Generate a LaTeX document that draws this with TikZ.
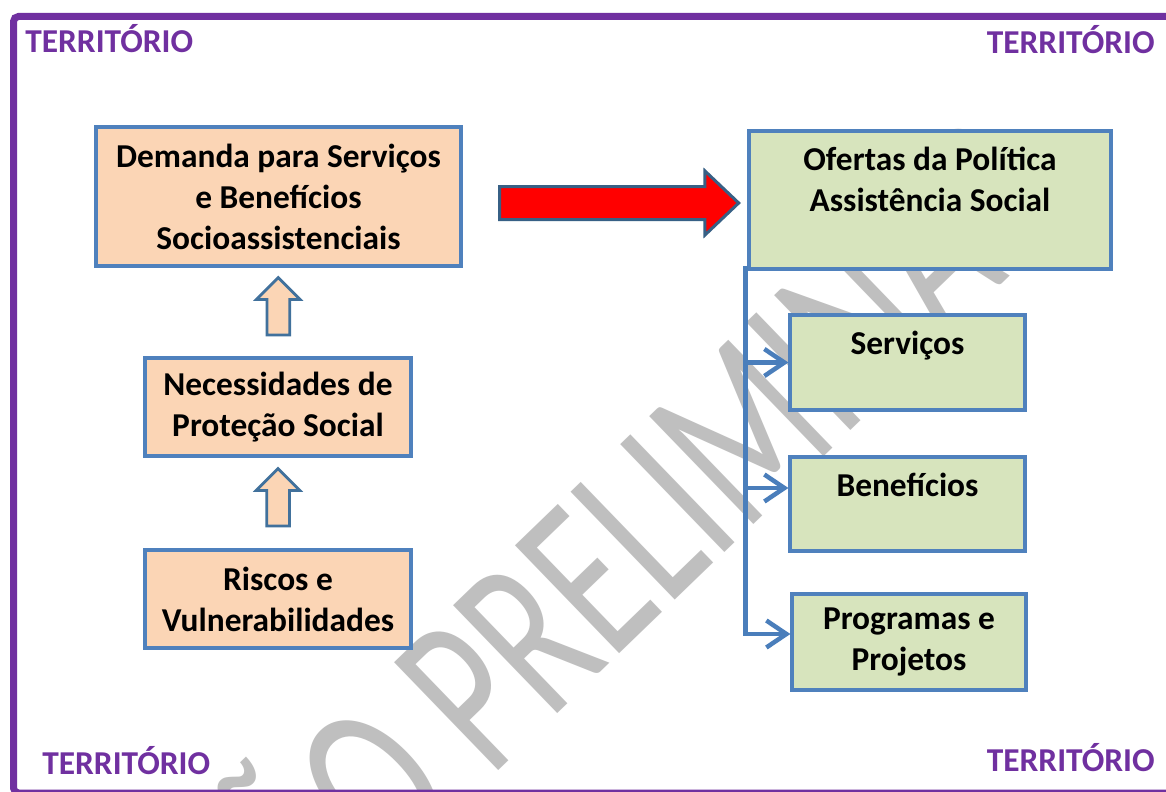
\documentclass[tikz,border=0pt]{standalone}
\usepackage{fontspec}
\setmainfont{Carlito}
\usetikzlibrary{arrows.meta,shapes.arrows,calc}

\definecolor{frameviolet}{HTML}{7030A0}
\definecolor{boxblue}{HTML}{4F81BD}
\definecolor{linkblue}{HTML}{4A7EBB}
\definecolor{arrowrim}{HTML}{41719C}
\definecolor{peach}{HTML}{FBD5B5}
\definecolor{sage}{HTML}{D7E4BD}

\begin{document}
\begin{tikzpicture}[x=0.2mm,y=-0.2mm,
    txt/.style = {font=\fontsize{19}{23.3}\selectfont\bfseries},
    demand/.style = {rectangle,draw=boxblue,line width=0.65mm,fill=peach,align=center,txt},
    offer/.style = {rectangle,draw=boxblue,line width=0.65mm,fill=sage,align=center,txt},
    offertop/.style = {offer,align=flush center,inner sep=0pt,text height=7.9mm},
    link/.style = {draw=linkblue,line width=0.9mm,-{Straight Barb[length=4mm,width=5.4mm]}},
    uparrow/.style = {single arrow,draw=arrowrim,line width=0.55mm,fill=peach,inner xsep=0pt,inner ysep=2mm,
        minimum width=8.2mm,minimum height=11.5mm,single arrow head extend=2.1mm,
        single arrow tip angle=90,rotate=90},
    bigarrow/.style = {single arrow,draw=arrowrim!85!black,line width=0.6mm,fill=red,inner xsep=0pt,inner ysep=3mm,
        minimum width=12.2mm,minimum height=47.8mm,single arrow head extend=3.1mm,
        single arrow tip angle=87},
    territory/.style = {text=frameviolet,font=\fontsize{19}{23}\selectfont\bfseries,inner sep=0pt}]
  \useasboundingbox (0,0) rectangle (1166,792);
  \clip (0,0) rectangle (1166,792);
  \fill[white] (0,0) rectangle (1166,792);

  % watermark behind everything
  \node[rotate=44,text=gray!50,inner sep=0pt,anchor=base] (mark) at (582,690)
    {\fontsize{133}{133}\selectfont\scalebox{0.68}[1]{VERSÃO PRELIMINAR}};

  \draw[frameviolet,line width=1.4mm,rounded corners=1mm] (13.5,16.5) rectangle (1185,793);
  \foreach \spot/\side [count=\k] in {{(25,53)}/base west,{(1155,54)}/base east,{(42,774)}/base west,{(1155,771)}/base east}
    \node[territory,anchor=\side] (terr\k) at \spot {TERRITÓRIO};

  % demand side
  \node[demand,minimum width=73mm,minimum height=27.8mm] (demanda) at (278.5,196.5) {Demanda para Serviços\\e Benefícios\\Socioassistenciais};
  \node[demand,minimum width=53.2mm,minimum height=19.6mm] (necessidades) at (278,407) {Necessidades de\\Proteção Social};
  \node[demand,minimum width=53.2mm,minimum height=19.6mm] (riscos) at (278,599) {Riscos e\\Vulnerabilidades};
  \node[uparrow] (up1) at ($(demanda.south)!0.5!(necessidades.north)$) {};
  \node[uparrow] (up2) at ($(necessidades.south)!0.5!(riscos.north)$) {};

  % offer side
  \node[offertop,text width=72.4mm,text depth=19.7mm] (ofertas) at (930,200) {Ofertas da Política\\Assistência Social};
  \node[offertop,text width=47mm,text depth=11.1mm] (servicos) at (907.5,362.5) {Serviços};
  \node[offertop,text width=47mm,text depth=10.9mm] (beneficios) at (907.5,504) {Benefícios};
  \node[offer,minimum width=46.8mm,minimum height=19.2mm] (programas) at (909,642) {Programas e\\Projetos};

  \node[bigarrow] (flow) at (610.5,203) {};

  \coordinate (trunk) at ([xshift=-0.4mm,yshift=1mm]ofertas.south west);
  \foreach \target/\dy in {servicos/0,beneficios/3.2,programas/1.6}
    \draw[link] (trunk) |- ([yshift=\dy mm]\target.west);
\end{tikzpicture}
\end{document}
